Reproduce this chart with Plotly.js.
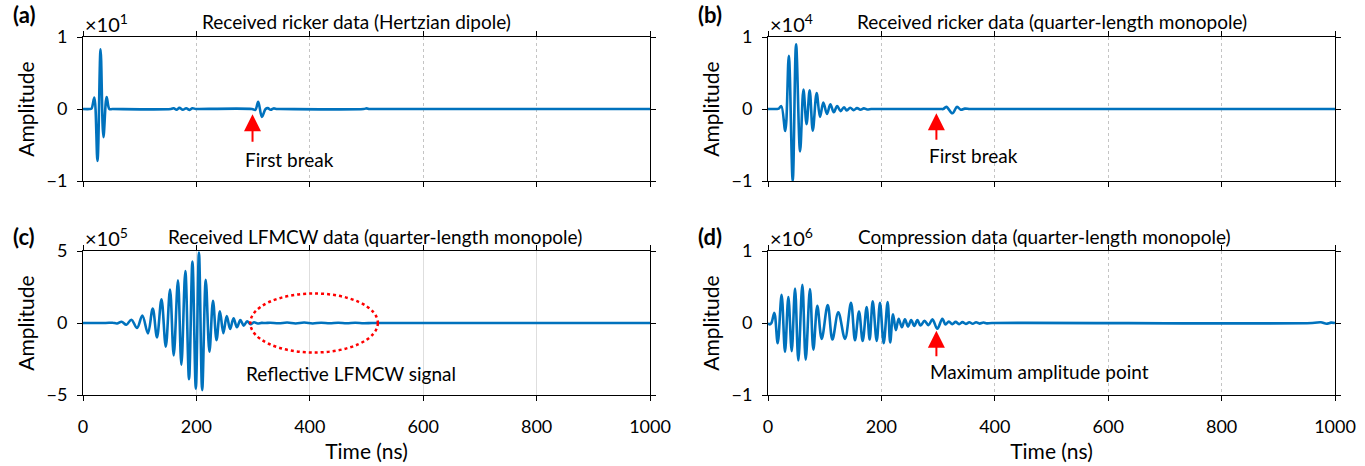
<!DOCTYPE html>
<html>
<head>
<meta charset="utf-8">
<script src="https://cdn.plot.ly/plotly-3.0.1.min.js"></script>
<style>html,body{margin:0;padding:0;background:#fff;}#chart{width:1365px;height:466px;}</style>
</head>
<body>
<div id="chart"></div>
<script>
// ---------- data ----------
// Time axis ticks (ns)
const xTicks = [0, 200, 400, 600, 800, 1000];
const xTickText = ['0', '200', '400', '600', '800', '1000'];

// (a) Received ricker data (Hertzian dipole), amplitude in units of 1e1
const timeA = [0,12,15,20,25.5,31,36,41.7,46.5,52,155,160,165,170,176,182,188,193,199,205,298,304,309,315.5,322,326,331,336,342,348,495,500,505,510,1000];
const ampA  = [0,0,0.005,0.16,-0.72,0.83,-0.39,0.165,0,0,0,0.01,-0.01,0.015,-0.01,0.01,-0.012,0.01,0,0,0,-0.012,0.10,-0.11,0,0.012,-0.01,0.008,0,0,0,0.008,0,0,0];

// (b) Received ricker data (quarter-length monopole), amplitude in units of 1e4
const timeB = [0,15,19,23.5,30.5,36.7,43.6,49.5,56.6,62.5,68,73.5,79,85.8,91.7,97.6,104,110,116,122,128,134,139,145,151,157,163,169,175,182,190,305,309,314.6,325.2,333.4,340,347,355,360,1000];
const ampB  = [0,0,0.005,0.04,-0.305,0.74,-1.0,0.9,-0.59,0.27,-0.21,0.26,-0.3,0.22,-0.11,0.09,-0.07,0.065,-0.046,0.04,-0.03,0.025,-0.02,0.018,-0.015,0.012,-0.01,0.008,-0.006,0,0,0,0,0.03,-0.06,0.03,-0.01,0.005,0,0,0];

// (c) Received LFMCW data (quarter-length monopole), amplitude in units of 1e5
const timeC = [0,40,52,60,68,76.5,85.3,95.3,104.7,114.5,123,130.5,138.4,146,153.5,160,167.5,173.5,180.5,187,193,199,204.5,210.2,216.5,223,229.3,235.5,241.5,247.5,253.5,259.5,265.5,271.5,277.5,283.5,289.5,295.5,301.5,308,315,322,330,345,360,375,390,405,420,435,450,465,480,495,510,530,1000];
const ampC  = [0,0,0.02,-0.03,0.09,-0.12,0.23,-0.35,0.52,-0.72,1.0,-1.0,1.65,-1.65,2.33,-2.25,2.97,-2.9,3.6,-3.9,4.27,-4.57,4.9,-4.66,3.0,-2.0,1.55,-1.2,0.82,-0.7,0.48,-0.42,0.33,-0.3,0.2,-0.18,0.12,-0.09,0.05,-0.03,0.01,0,0.02,-0.02,0.03,-0.03,0.03,-0.03,0.02,-0.02,0.02,-0.02,0.015,-0.015,0,0,0];

// (d) Compression data (quarter-length monopole), amplitude in units of 1e6
const timeD = [0,3,6,11.2,17.1,24,30,35.9,41.8,47.7,53.5,60.6,66.5,74,80,87,94.7,105.3,113.6,124,135.8,146.4,153.4,160.5,167,174,179.3,184.7,191.7,197.5,204,211,215.5,220.5,225.5,230.5,236,241.5,247,252.5,258,263.5,269,276,283,290,298.7,307.5,313,319,325,331,337,343,349,355,361,367,373,380,386,395,960,975,985,993,1000];
const ampD  = [0,-0.02,0,0.14,-0.28,0.39,-0.40,0.36,-0.39,0.48,-0.52,0.53,-0.51,0.47,-0.37,0.24,-0.22,0.25,-0.23,0.15,-0.22,0.28,-0.24,0.16,-0.25,0.22,-0.23,0.30,-0.25,0.28,-0.28,0.29,-0.27,0.12,-0.10,0.06,-0.06,0.05,-0.05,0.04,-0.04,0.04,-0.035,0.03,-0.03,0.05,-0.08,0.06,-0.02,0.02,-0.015,0.015,-0.015,0.012,-0.012,0.01,-0.01,0.01,-0.008,0.006,-0.005,0,0,0.01,-0.01,0.005,0];

const panelLabels = ['(a)', '(b)', '(c)', '(d)'];
const panelTitles = ['Received ricker data (Hertzian dipole)', 'Received ricker data (quarter-length monopole)', 'Received LFMCW data (quarter-length monopole)', 'Compression data (quarter-length monopole)'];
const exponents = ['1', '4', '5', '6'];
const yTicksSmall = [-1, 0, 1];
const yTicksC = [-5, 0, 5];

// ---------- layout helpers ----------
const W = 1365, H = 466;
const px = v => v / W;
const py = v => 1 - v / H;
const FONT = 'Lato, "Noto Sans", sans-serif';
const BLUE = '#0072BD';

function lineTrace(x, y, xa, ya) {
  return {x: x, y: y, xaxis: xa, yaxis: ya, type: 'scatter', mode: 'lines',
    line: {color: BLUE, width: 2.6, shape: 'spline', smoothing: 1}, hoverinfo: 'skip', showlegend: false};
}

const data = [
  lineTrace(timeA, ampA, 'x', 'y'),
  lineTrace(timeB, ampB, 'x2', 'y2'),
  lineTrace(timeC, ampC, 'x3', 'y3'),
  lineTrace(timeD, ampD, 'x4', 'y4')
];

function xAxis(domain, anchor, showLabels, dash) {
  const a = {domain: domain, anchor: anchor, range: [0, 1000], tickmode: 'array', tickvals: xTicks, ticktext: xTickText,
    showline: true, mirror: 'ticks', linecolor: '#000', linewidth: 1, ticks: 'outside', ticklen: 5, tickcolor: '#000', tickwidth: 1,
    showgrid: true, gridcolor: dash ? '#c4c4c4' : '#dedede', griddash: dash ? 'dot' : 'solid', gridwidth: 1, zeroline: false,
    showticklabels: showLabels, tickfont: {family: FONT, size: 18, color: '#000'}, ticklabelstandoff: 10, fixedrange: true};
  if (showLabels) a.title = {text: 'Time (ns)', font: {family: FONT, size: 21, color: '#000'}, standoff: 8};
  return a;
}
function yAxis(domain, anchor, ticks) {
  return {domain: domain, anchor: anchor, range: [ticks[0], ticks[2]], tickmode: 'array', tickvals: ticks,
    showline: true, mirror: 'ticks', linecolor: '#000', linewidth: 1, ticks: 'outside', ticklen: 5, tickcolor: '#000', tickwidth: 1,
    showgrid: false, zeroline: false, tickfont: {family: FONT, size: 18, color: '#000'}, ticklabelstandoff: 6,
    title: {text: 'Amplitude', font: {family: FONT, size: 21, color: '#000'}, standoff: 6}, fixedrange: true};
}

const xDomL = [px(83), px(650)], xDomR = [px(768), px(1335)];
const yDomT = [py(181), py(37)], yDomB = [py(395), py(251)];

const annotations = [];
// panel letters, titles, exponent labels
const letterPos = [[24, 14], [710, 14], [24, 236], [710, 236]];
const titlePos = [[356, 21], [1052, 21], [375, 236], [1044, 236]];
const expPos = [[84, 37], [769, 37], [84, 251], [769, 251]];
for (let i = 0; i < 4; i++) {
  annotations.push({xref: 'paper', yref: 'paper', x: px(letterPos[i][0]), y: py(letterPos[i][1]), text: '<b>' + panelLabels[i] + '</b>',
    showarrow: false, xanchor: 'center', yanchor: 'middle', font: {family: FONT, size: 22, color: '#000'}});
  annotations.push({xref: 'paper', yref: 'paper', x: px(titlePos[i][0]), y: py(titlePos[i][1]), text: panelTitles[i],
    showarrow: false, xanchor: 'center', yanchor: 'middle', font: {family: FONT, size: 19, color: '#000'}});
  annotations.push({xref: 'paper', yref: 'paper', x: px(expPos[i][0]), y: py(expPos[i][1]), text: '×10<sup>' + exponents[i] + '</sup>',
    showarrow: false, xanchor: 'left', yanchor: 'bottom', font: {family: FONT, size: 20, color: '#000'}, borderpad: 0});
}
// arrows (tip in data coordinates) and notes
const arrowSpecs = [
  {xa: 'x', ya: 'y', x: 299, y: -0.074, ay: 29},
  {xa: 'x2', ya: 'y2', x: 297, y: -0.06, ay: 28},
  {xa: 'x4', ya: 'y4', x: 297, y: -0.107, ay: 27}
];
arrowSpecs.forEach(s => annotations.push({xref: s.xa, yref: s.ya, x: s.x, y: s.y, ax: 0, ay: s.ay, text: '', showarrow: true,
  arrowhead: 2, arrowsize: 1.7, arrowwidth: 2, arrowcolor: '#FF0000'}));
const notes = [
  {xa: 'x', ya: 'y', x: 283, y: -0.708, text: 'First break'},
  {xa: 'x2', ya: 'y2', x: 280.6, y: -0.64, text: 'First break'},
  {xa: 'x3', ya: 'y3', x: 284, y: -3.5, text: 'Reflective LFMCW signal'},
  {xa: 'x4', ya: 'y4', x: 282, y: -0.672, text: 'Maximum amplitude point'}
];
notes.forEach(n => annotations.push({xref: n.xa, yref: n.ya, x: n.x, y: n.y, text: n.text, showarrow: false,
  xanchor: 'left', yanchor: 'middle', font: {family: FONT, size: 19, color: '#000'}}));

const shapes = [{type: 'circle', xref: 'x3', yref: 'y3', x0: 295, x1: 520, y0: -2.05, y1: 2.05,
  line: {color: '#FF0000', width: 2.5, dash: 'dot'}}];

const layout = {
  width: W, height: H, margin: {l: 0, r: 0, t: 0, b: 0}, paper_bgcolor: '#fff', plot_bgcolor: '#fff',
  font: {family: FONT, color: '#000'}, showlegend: false,
  xaxis: xAxis(xDomL, 'y', false, true), yaxis: yAxis(yDomT, 'x', yTicksSmall),
  xaxis2: xAxis(xDomR, 'y2', false, true), yaxis2: yAxis(yDomT, 'x2', yTicksSmall),
  xaxis3: xAxis(xDomL, 'y3', true, false), yaxis3: yAxis(yDomB, 'x3', yTicksC),
  xaxis4: xAxis(xDomR, 'y4', true, true), yaxis4: yAxis(yDomB, 'x4', yTicksSmall),
  annotations: annotations, shapes: shapes
};

Plotly.newPlot('chart', data, layout, {displayModeBar: false, staticPlot: true});
</script>
</body>
</html>
